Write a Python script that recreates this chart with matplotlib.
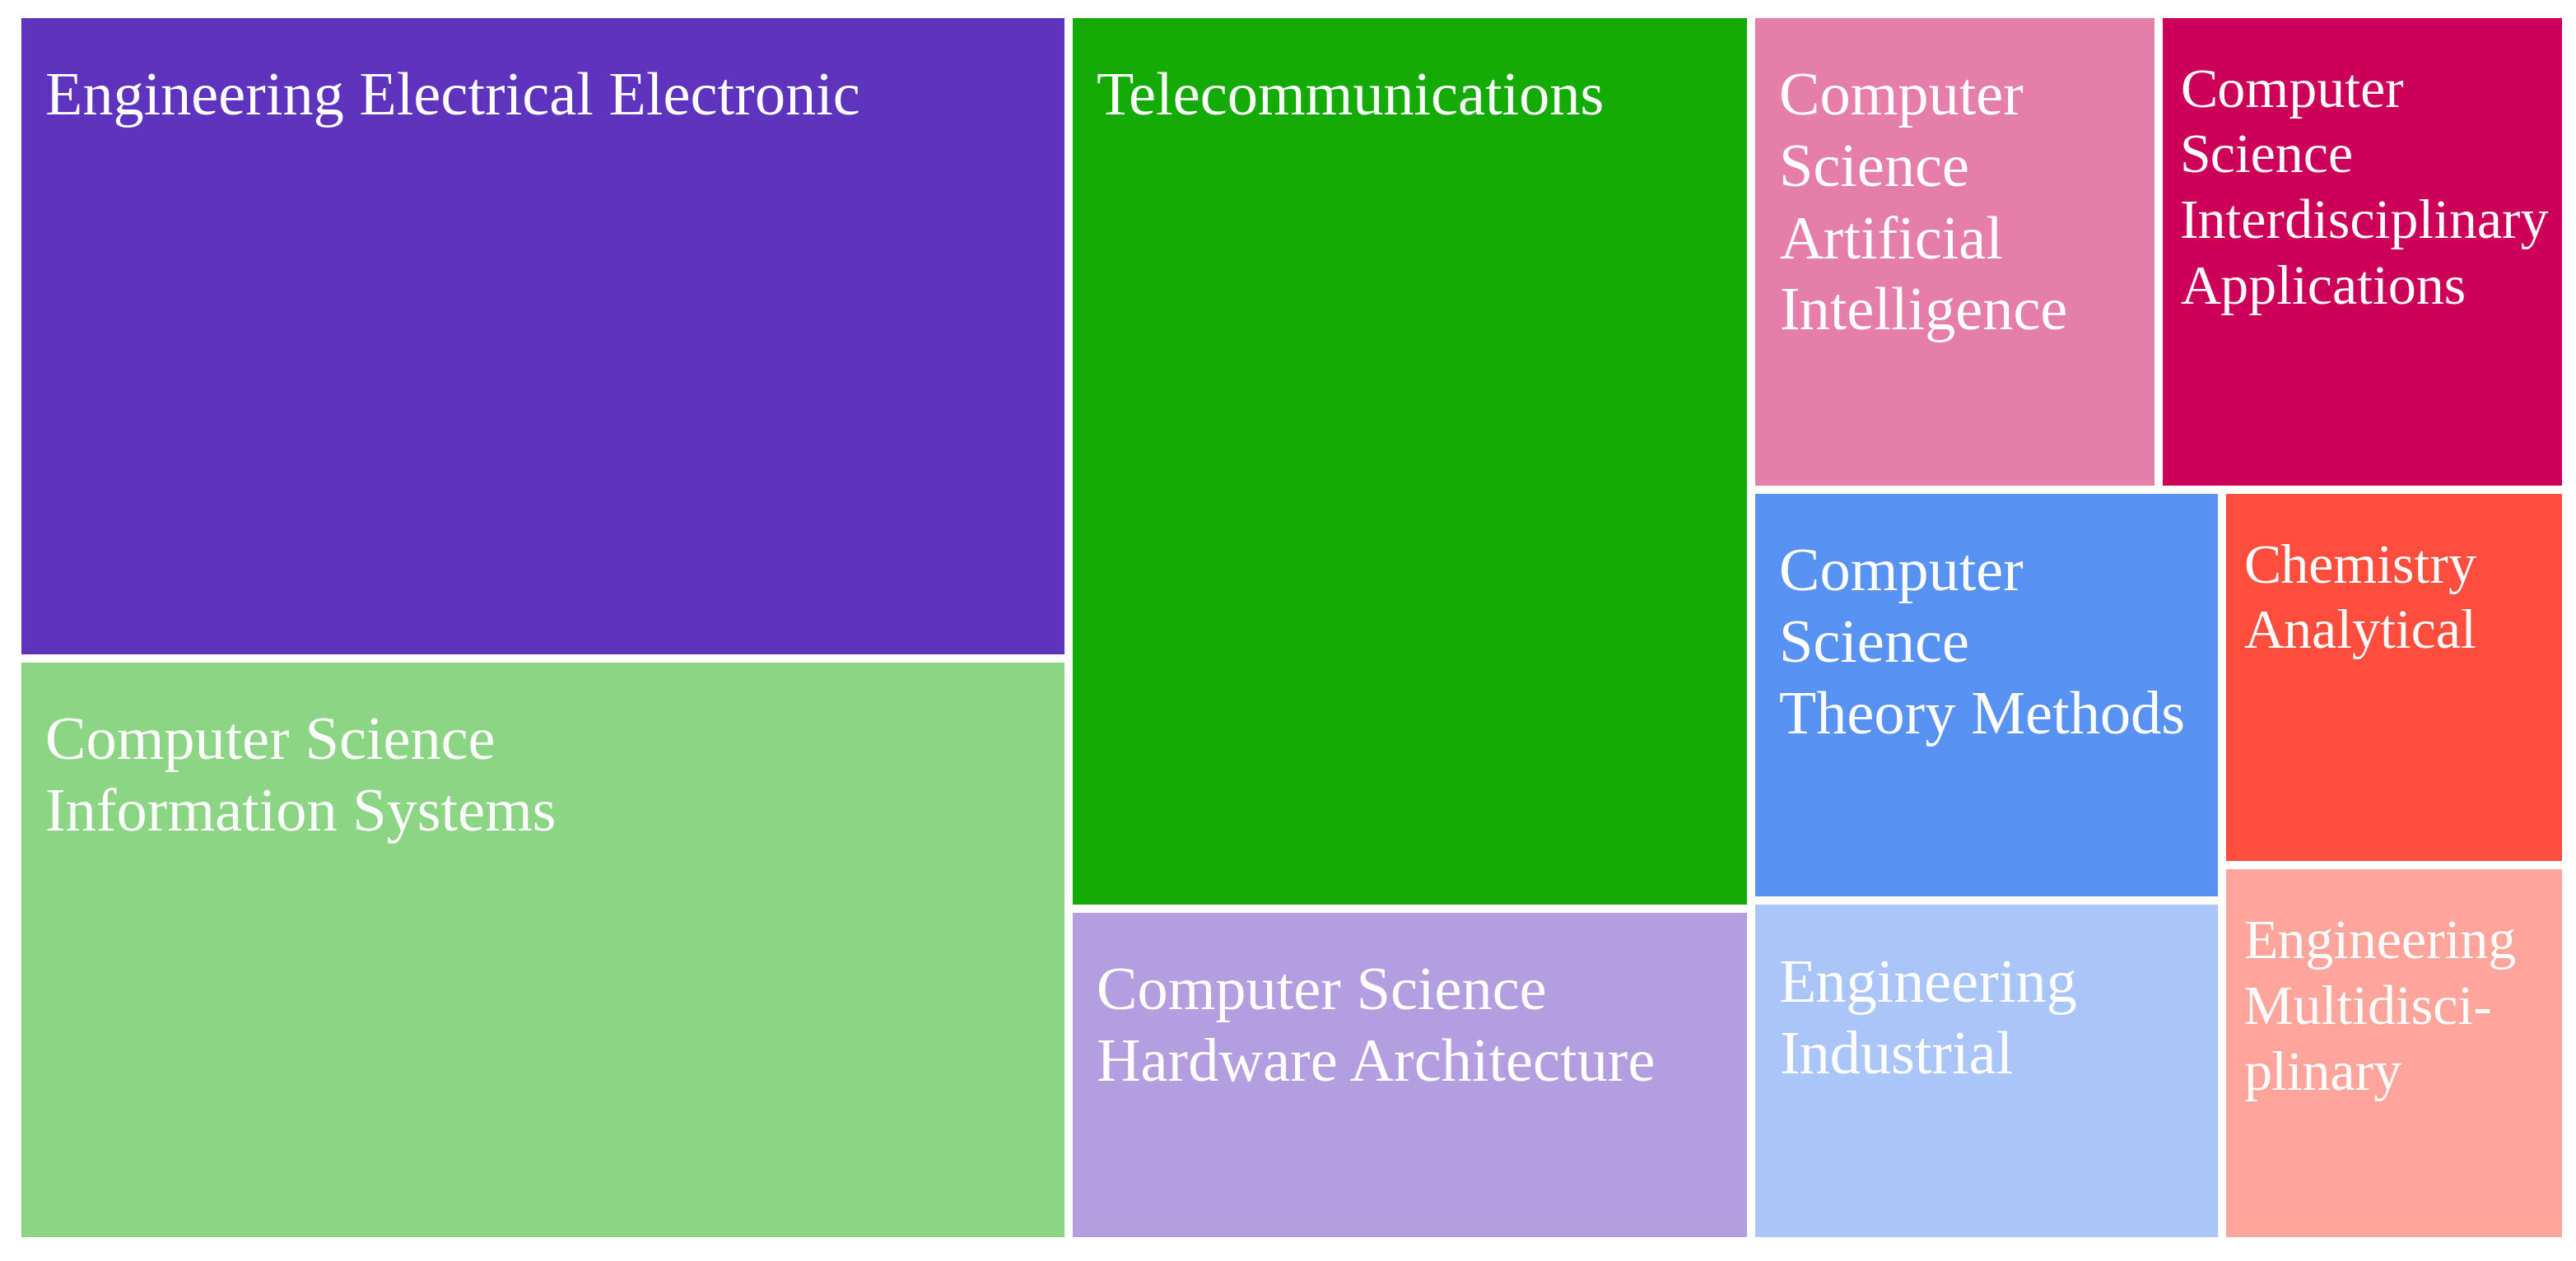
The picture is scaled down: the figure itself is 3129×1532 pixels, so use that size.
import matplotlib
matplotlib.use('Agg')
import matplotlib.pyplot as plt
from matplotlib.patches import Rectangle

### data: publication counts per research area (descending, as drawn by the treemap)
categories = ['Engineering Electrical Electronic',
              'Computer Science Information Systems',
              'Telecommunications',
              'Computer Science Hardware Architecture',
              'Computer Science Artificial Intelligence',
              'Computer Science Interdisciplinary Applications',
              'Computer Science Theory Methods',
              'Engineering Industrial',
              'Chemistry Analytical',
              'Engineering Multidisciplinary']
counts = [325, 294, 293, 109, 93, 93, 93, 77, 62, 62]
# labels as they are wrapped inside the boxes
labels = ['Engineering Electrical Electronic',
          'Computer Science\nInformation Systems',
          'Telecommunications',
          'Computer Science\nHardware Architecture',
          'Computer\nScience\nArtificial\nIntelligence',
          'Computer\nScience\nInterdisciplinary\nApplications',
          'Computer\nScience\nTheory Methods',
          'Engineering\nIndustrial',
          'Chemistry\nAnalytical',
          'Engineering\nMultidisci-\nplinary']
colors = ['#5e34be', '#8bd585', '#14ab07', '#b39fe0', '#e57fa9',
          '#cc0058', '#5892f2', '#aac6f8', '#ff4e3d', '#ffa59c']
# boxes that got a smaller label font
small_labels = ['Computer Science Interdisciplinary Applications',
                'Chemistry Analytical',
                'Engineering Multidisciplinary']


### squarified treemap layout (y axis pointing down)

def worst(row, side):
    s = sum(row)
    return max(max(side*side*r/(s*s), s*s/(side*side*r)) for r in row)

def squarify(values, x, y, dx, dy):
    total = float(sum(values))
    areas = [v*dx*dy/total for v in values]
    rects = []
    while areas:
        side = min(dx, dy)
        row = [areas[0]]
        i = 1
        while i < len(areas) and worst(row+[areas[i]], side) <= worst(row, side):
            row.append(areas[i])
            i += 1
        areas = areas[i:]
        s = sum(row)
        if dx >= dy:
            # stack a column on the left
            cw = s/dy
            yy = y
            for a in row:
                rects.append((x, yy, cw, a/cw))
                yy += a/cw
            x += cw
            dx -= cw
        else:
            # stack a row on top
            rh = s/dx
            xx = x
            for a in row:
                rects.append((xx, y, a/rh, rh))
                xx += a/rh
            y += rh
            dy -= rh
    return rects


W, H = 3129, 1532
fig = plt.figure(figsize=(W/100., H/100.), dpi=100)
ax = fig.add_axes([0, 0, 1, 1])
ax.set_xlim(0, W)
ax.set_ylim(H, 0)
ax.axis('off')

gap = 10  # white gap between boxes, in pixels
rects = squarify(counts, 21, 17, 3096, 1491)

for (x, y, w, h), cat, lab, col in zip(rects, categories, labels, colors):
    ax.add_patch(Rectangle((x, y), w, h, facecolor=col, edgecolor='white',
                           linewidth=gap*0.72))
    small = cat in small_labels
    fs = 49 if small else 53.5
    pad = 21 if small else 29
    fpx = fs*100/72.
    # left/top of the visible box
    vx = x + gap/2.
    vy = y + gap/2.
    for i, line in enumerate(lab.split('\n')):
        ax.text(vx+pad, vy+1.5*fpx+6+i*1.17*fpx, line, color='white',
                fontsize=fs, family='Liberation Serif',
                ha='left', va='baseline')

fig.savefig('out.png', dpi=100, facecolor='white')
